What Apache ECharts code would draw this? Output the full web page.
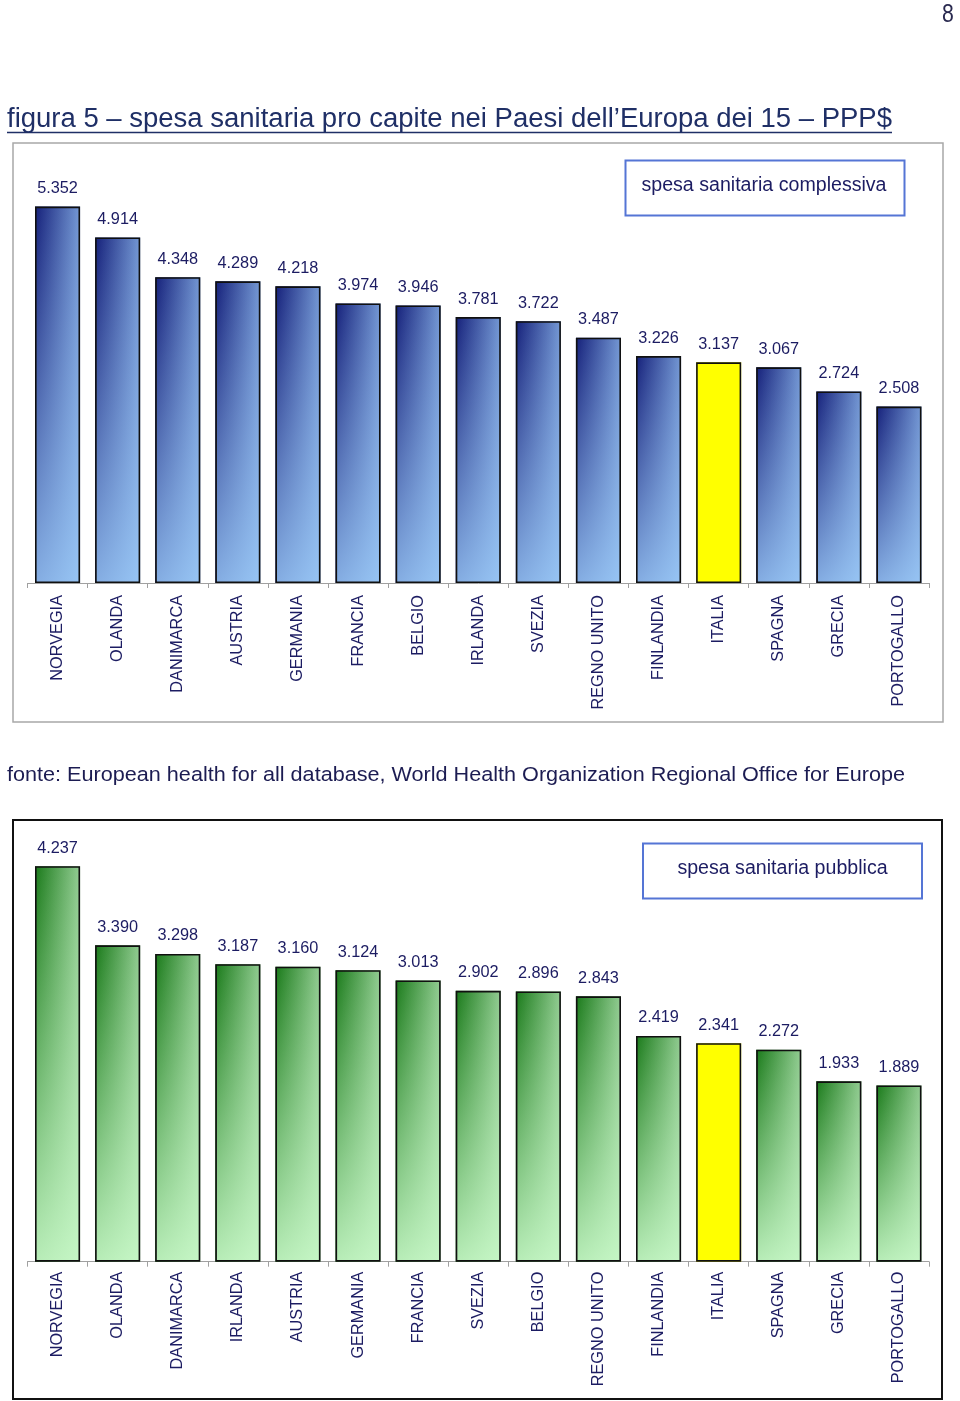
<!DOCTYPE html>
<html>
<head>
<meta charset="utf-8">
<script src="https://cdn.jsdelivr.net/npm/echarts@6/dist/echarts.min.js"></script>
<style>
html,body{margin:0;padding:0;background:#fff;}
#chart{width:960px;height:1401px;}
</style>
</head>
<body>
<div id="chart"></div>
<script>
// ---- data ----
const titleText = 'figura 5 \u2013 spesa sanitaria pro capite nei Paesi dell\u2019Europa dei 15 \u2013 PPP$';
const sourceText = 'fonte: European health for all database, World Health Organization Regional Office for Europe';
const pageNumber = '8';

const legend1 = 'spesa sanitaria complessiva';
const categories1 = ['NORVEGIA','OLANDA','DANIMARCA','AUSTRIA','GERMANIA','FRANCIA','BELGIO','IRLANDA','SVEZIA','REGNO UNITO','FINLANDIA','ITALIA','SPAGNA','GRECIA','PORTOGALLO'];
const values1 = [5.352,4.914,4.348,4.289,4.218,3.974,3.946,3.781,3.722,3.487,3.226,3.137,3.067,2.724,2.508];

const legend2 = 'spesa sanitaria pubblica';
const categories2 = ['NORVEGIA','OLANDA','DANIMARCA','IRLANDA','AUSTRIA','GERMANIA','FRANCIA','SVEZIA','BELGIO','REGNO UNITO','FINLANDIA','ITALIA','SPAGNA','GRECIA','PORTOGALLO'];
const values2 = [4.237,3.390,3.298,3.187,3.160,3.124,3.013,2.902,2.896,2.843,2.419,2.341,2.272,1.933,1.889];

const highlight = 'ITALIA';

// ---- helpers ----
const FONT = '"Liberation Sans", Arial, Helvetica, sans-serif';
const NAVY = '#1c1c62';
function measure(text, font){
  const c = document.createElement('canvas').getContext('2d');
  c.font = font; return c.measureText(text).width;
}
function grad(dir, stops){
  return dir === 'h'
    ? new echarts.graphic.LinearGradient(0,0,1,0, stops)
    : new echarts.graphic.LinearGradient(0,0,0,1, stops);
}
const blueBase = grad('h',[{offset:0,color:'#15207a'},{offset:1,color:'#7498d4'}]);
const blueOver = grad('v',[{offset:0,color:'rgba(160,205,250,0)'},{offset:1,color:'rgba(160,208,252,0.8)'}]);
const greenBase = grad('h',[{offset:0,color:'#1a7a1a'},{offset:1,color:'#92cc92'}]);
const greenOver = grad('v',[{offset:0,color:'rgba(205,252,205,0)'},{offset:1,color:'rgba(205,252,205,0.88)'}]);

function baseData(cats, vals, baseColor){
  return vals.map((v,i)=>({value:v, itemStyle:{color: cats[i]===highlight ? '#ffff00' : baseColor}}));
}
function overData(cats, vals, overColor){
  return vals.map((v,i)=>({value:v, itemStyle:{color: cats[i]===highlight ? 'rgba(0,0,0,0)' : overColor}}));
}

function xAxis(gi, cats, margin){
  return {
    type:'category', gridIndex:gi, data:cats,
    axisLine:{lineStyle:{color:'#a0a0a0', width:1}},
    axisTick:{show:true, length:5, lineStyle:{color:'#a0a0a0'}},
    axisLabel:{rotate:90, margin:margin, fontSize:16.3, fontFamily:FONT, color:NAVY, interval:0}
  };
}
function yAxis(gi, max){
  return {type:'value', gridIndex:gi, min:0, max:max, show:false, splitLine:{show:false}};
}
function seriesPair(gi, cats, vals, base, over){
  return [
    {type:'bar', xAxisIndex:gi, yAxisIndex:gi, barCategoryGap:'25%', barGap:'-100%',
     data: baseData(cats, vals, base), silent:true, z:2},
    {type:'bar', xAxisIndex:gi, yAxisIndex:gi, barCategoryGap:'25%', barGap:'-100%',
     data: overData(cats, vals, over), silent:true, z:3,
     itemStyle:{borderColor:'#101010', borderWidth:1.6},
     label:{show:true, position:'top', distance:10, fontSize:16.3, fontFamily:FONT, color:NAVY,
            formatter:p=>p.value.toFixed(3)}}
  ];
}

const titleFont = '27px ' + FONT;
const titleScale = 885 / measure(titleText, titleFont);
const srcFont = '20.5px ' + FONT;
const srcScale = 898 / measure(sourceText, srcFont);

const chart = echarts.init(document.getElementById('chart'), null, {renderer:'canvas'});
chart.setOption({
  animation:false,
  grid:[
    {left:27.5, right:31, top:161, bottom:818},
    {left:27.5, right:31, top:841.7, bottom:139.3}
  ],
  xAxis:[xAxis(0, categories1, 12), xAxis(1, categories2, 10)],
  yAxis:[yAxis(0, 6), yAxis(1, 4.5)],
  series:[
    ...seriesPair(0, categories1, values1, blueBase, blueOver),
    ...seriesPair(1, categories2, values2, greenBase, greenOver)
  ],
  graphic:[
    // frames
    {type:'rect', shape:{x:13, y:143, width:930, height:579}, style:{fill:'none', stroke:'#a8a8a8', lineWidth:1.5}, z:0},
    {type:'rect', shape:{x:13, y:820, width:929, height:579}, style:{fill:'none', stroke:'#111', lineWidth:2}, z:0},
    // legend boxes
    {type:'rect', shape:{x:625.5, y:160.5, width:279, height:55}, style:{fill:'#fff', stroke:'#5575d5', lineWidth:2}, z:5},
    {type:'text', x:764, y:186, style:{text:legend1, font:'19.6px '+FONT, fill:NAVY, textAlign:'center', textVerticalAlign:'middle'}, z:6},
    {type:'rect', shape:{x:643, y:843.5, width:279, height:55}, style:{fill:'#fff', stroke:'#5575d5', lineWidth:2}, z:5},
    {type:'text', x:782.5, y:869, style:{text:legend2, font:'19.6px '+FONT, fill:NAVY, textAlign:'center', textVerticalAlign:'middle'}, z:6},
    // title with underline
    {type:'text', x:7, y:120, scaleX:titleScale, style:{text:titleText, font:titleFont, fill:'#1f2f66', textVerticalAlign:'middle'}, z:6},
    {type:'line', shape:{x1:7, y1:132.5, x2:892, y2:132.5}, style:{stroke:'#1f2f66', lineWidth:1.5}, z:6},
    // source
    {type:'text', x:7, y:775, scaleX:srcScale, style:{text:sourceText, font:srcFont, fill:'#1c1c52', textVerticalAlign:'middle'}, z:6},
    // page number
    {type:'text', x:948, y:15, scaleX:0.85, style:{text:pageNumber, font:'25px '+FONT, fill:'#2a2a50', textAlign:'center', textVerticalAlign:'middle'}, z:6}
  ]
});
</script>
</body>
</html>
